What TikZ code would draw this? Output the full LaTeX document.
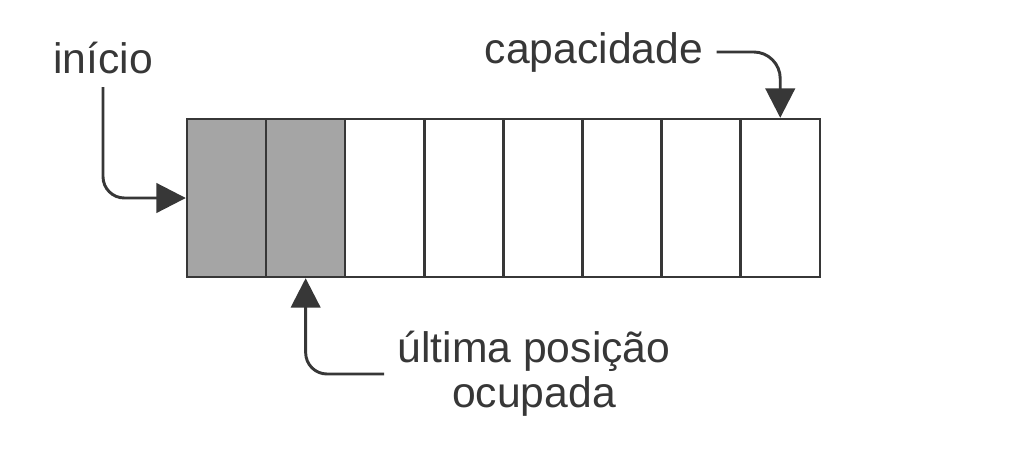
\documentclass[tikz,border=0pt]{standalone}
\usepackage{fontspec}
\setmainfont{Liberation Sans}
\usetikzlibrary{arrows.meta}
\definecolor{cellgray}{RGB}{165,165,165}
\definecolor{inkgray}{RGB}{55,55,55}
\tikzset{
  cell/.style={draw=inkgray, line width=1.8pt, minimum width=59.3pt, minimum height=118.5pt, inner sep=0pt},
  full/.style={cell, fill=cellgray},
  lbl/.style={text=inkgray, inner sep=10pt, font=\fontsize{32}{34}\selectfont},
  ptr/.style={draw=inkgray, line width=2.2pt, rounded corners=16pt, -{Triangle[length=22pt,width=22pt]}}
}
\begin{document}
\begin{tikzpicture}[x=0.75pt, y=-0.75pt]
\useasboundingbox (0,0) rectangle (1013,458);
% vetor
\foreach \i/\kind in {1/full,2/full,3/cell,4/cell,5/cell,6/cell,7/cell,8/cell}
  \node[\kind] (cell\i) at ({187+79.1*(\i-0.5)},198) {};
% rotulos
\node[lbl, anchor=base] (inicio) at (103,73) {início};
\node[lbl, anchor=base] (capacidade) at (594,63) {capacidade};
\node[lbl, align=center] (ultima) at (534,374) {última posição\\ocupada};
% setas
\draw[ptr] (inicio.south) |- (cell1.west);
\draw[ptr, rounded corners=20pt] (capacidade.east) -| (cell8.north);
\draw[ptr] (ultima.west) -| (cell2.south);
\end{tikzpicture}
\end{document}
